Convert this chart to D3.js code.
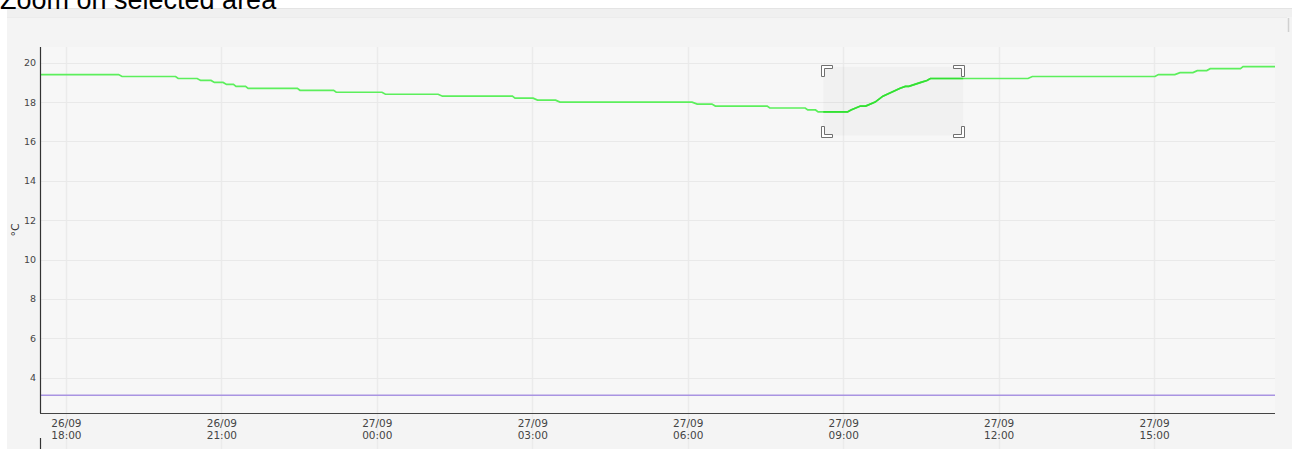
<!DOCTYPE html>
<html>
<head>
<meta charset="utf-8">
<script src="https://cdn.jsdelivr.net/npm/d3@7"></script>
<style>
  html, body { margin: 0; padding: 0; background: #ffffff; overflow: hidden; }
  svg { display: block; }
</style>
</head>
<body>
<svg id="chart" width="1299" height="449"></svg>
<script>
// ---------- data ----------
const titleText = "Zoom on selected area";
const yLabel = "°C";

const greenTimes = [
  "2023-09-26 17:30","2023-09-26 19:01","2023-09-26 19:05","2023-09-26 20:07","2023-09-26 20:10",
  "2023-09-26 20:32","2023-09-26 20:36","2023-09-26 20:48","2023-09-26 20:52","2023-09-26 21:02",
  "2023-09-26 21:06","2023-09-26 21:14","2023-09-26 21:17","2023-09-26 21:28","2023-09-26 21:31",
  "2023-09-26 22:28","2023-09-26 22:31","2023-09-26 23:10","2023-09-26 23:13","2023-09-27 00:06",
  "2023-09-27 00:10","2023-09-27 01:11","2023-09-27 01:16","2023-09-27 02:37","2023-09-27 02:40",
  "2023-09-27 03:01","2023-09-27 03:06","2023-09-27 03:27","2023-09-27 03:32","2023-09-27 06:05",
  "2023-09-27 06:11","2023-09-27 06:28","2023-09-27 06:32","2023-09-27 07:32","2023-09-27 07:35",
  "2023-09-27 08:16","2023-09-27 08:19","2023-09-27 08:28","2023-09-27 08:31","2023-09-27 09:05",
  "2023-09-27 09:09","2023-09-27 09:20","2023-09-27 09:26","2023-09-27 09:37","2023-09-27 09:46",
  "2023-09-27 10:06","2023-09-27 10:12","2023-09-27 10:16","2023-09-27 10:30","2023-09-27 10:37",
  "2023-09-27 10:41","2023-09-27 12:34","2023-09-27 12:39","2023-09-27 15:01","2023-09-27 15:05",
  "2023-09-27 15:24","2023-09-27 15:30","2023-09-27 15:45","2023-09-27 15:50","2023-09-27 16:01",
  "2023-09-27 16:05","2023-09-27 16:40","2023-09-27 16:43","2023-09-27 17:20"
];
const greenValues = [
  19.4,19.4,19.3,19.3,19.2,
  19.2,19.1,19.1,19.0,19.0,
  18.9,18.9,18.8,18.8,18.7,
  18.7,18.6,18.6,18.5,18.5,
  18.4,18.4,18.3,18.3,18.2,
  18.2,18.1,18.1,18.0,18.0,
  17.9,17.9,17.8,17.8,17.7,
  17.7,17.6,17.6,17.5,17.5,
  17.6,17.8,17.8,18.0,18.3,
  18.7,18.8,18.8,19.0,19.1,
  19.2,19.2,19.3,19.3,19.4,
  19.4,19.5,19.5,19.6,19.6,
  19.7,19.7,19.8,19.8
];

const purpleTimes = ["2023-09-26 17:30", "2023-09-27 17:20"];
const purpleValues = [3.1, 3.1];

const xDomain = ["2023-09-26 17:30", "2023-09-27 17:20"];
const yDomain = [2.2, 20.8];
const yTicks = [4, 6, 8, 10, 12, 14, 16, 18, 20];
const xTicks = ["2023-09-26 18:00","2023-09-26 21:00","2023-09-27 00:00","2023-09-27 03:00",
                "2023-09-27 06:00","2023-09-27 09:00","2023-09-27 12:00","2023-09-27 15:00"];

// selected (zoom) area
const selTimes = ["2023-09-27 08:37", "2023-09-27 11:19"];
const selValues = [16.3, 19.8];

// ---------- drawing ----------
const parse = d3.timeParse("%Y-%m-%d %H:%M");
const W = 1299, H = 449;
const plot = { left: 40, right: 1275, top: 47, bottom: 413 };

const svg = d3.select("#chart");

// container panel
svg.append("rect").attr("x", 7).attr("y", 8).attr("width", 1285).attr("height", H - 8)
  .attr("fill", "#f4f4f4");
svg.append("rect").attr("x", 7).attr("y", 8).attr("width", 1285).attr("height", 9)
  .attr("fill", "#f0f0f0");
svg.append("line").attr("x1", 7).attr("x2", 1292).attr("y1", 8.5).attr("y2", 8.5)
  .attr("stroke", "#e4e4e4");
svg.append("line").attr("x1", 7).attr("x2", 1287).attr("y1", 17.5).attr("y2", 17.5)
  .attr("stroke", "#ececec");
svg.append("line").attr("x1", 1288.5).attr("x2", 1288.5).attr("y1", 18).attr("y2", 32)
  .attr("stroke", "#d0d0d0").attr("stroke-width", 1.5);

// page title (partially scrolled out of view at the top, as in the reference)
svg.append("text")
  .attr("x", 0).attr("y", 9)
  .attr("font-family", "Liberation Sans, Arial, sans-serif")
  .attr("font-size", 27)
  .attr("fill", "#000")
  .text(titleText);

// plot background
svg.append("rect")
  .attr("x", plot.left).attr("y", plot.top)
  .attr("width", plot.right - plot.left).attr("height", plot.bottom - plot.top)
  .attr("fill", "#f7f7f7");

const x = d3.scaleTime().domain(xDomain.map(parse)).range([plot.left, plot.right]);
const y = d3.scaleLinear().domain(yDomain).range([plot.bottom, plot.top]);

// grid
const gx = svg.append("g");
xTicks.map(parse).forEach(t => {
  gx.append("line")
    .attr("x1", Math.round(x(t)) + 0.5).attr("x2", Math.round(x(t)) + 0.5)
    .attr("y1", plot.top).attr("y2", H)
    .attr("stroke", "#ebebeb").attr("stroke-width", 1.5);
});
yTicks.forEach(v => {
  gx.append("line")
    .attr("x1", plot.left).attr("x2", plot.right)
    .attr("y1", Math.round(y(v)) + 0.5).attr("y2", Math.round(y(v)) + 0.5)
    .attr("stroke", "#e9e9e9").attr("stroke-width", 1);
});

// selection rectangle
const sx0 = x(parse(selTimes[0])), sx1 = x(parse(selTimes[1]));
const sy0 = y(selValues[1]), sy1 = y(selValues[0]);
svg.append("rect")
  .attr("x", sx0).attr("y", sy0).attr("width", sx1 - sx0).attr("height", sy1 - sy0)
  .attr("fill", "#000").attr("fill-opacity", 0.025);

// series
const green = greenTimes.map((t, i) => ({ t: parse(t), v: greenValues[i] }));
const purple = purpleTimes.map((t, i) => ({ t: parse(t), v: purpleValues[i] }));
const line = d3.line().x(d => x(d.t)).y(d => y(d.v));

svg.append("path").datum(purple).attr("d", line)
  .attr("fill", "none").attr("stroke", "#a994e2").attr("stroke-width", 1.6);

svg.append("path").datum(green).attr("d", line)
  .attr("fill", "none").attr("stroke", "#5cef5c").attr("stroke-width", 1.7);

svg.append("clipPath").attr("id", "selclip").append("rect")
  .attr("x", sx0).attr("y", sy0).attr("width", sx1 - sx0).attr("height", sy1 - sy0);
svg.append("path").datum(green).attr("d", line)
  .attr("clip-path", "url(#selclip)")
  .attr("fill", "none").attr("stroke", "#33e033").attr("stroke-width", 1.7);

// selection corner brackets
function bracket(cx, cy, dx, dy) {
  const L = 11, T = 3;
  const p = d3.path();
  p.moveTo(cx, cy);
  p.lineTo(cx + dx * L, cy);
  p.lineTo(cx + dx * L, cy + dy * T);
  p.lineTo(cx + dx * T, cy + dy * T);
  p.lineTo(cx + dx * T, cy + dy * L);
  p.lineTo(cx, cy + dy * L);
  p.closePath();
  svg.append("path").attr("d", p.toString())
    .attr("fill", "#ffffff").attr("stroke", "#707070").attr("stroke-width", 1);
}
bracket(Math.round(sx0) - 1.5, Math.round(sy0) - 1.5, 1, 1);
bracket(Math.round(sx1) + 1.5, Math.round(sy0) - 1.5, -1, 1);
bracket(Math.round(sx0) - 1.5, Math.round(sy1) + 1.5, 1, -1);
bracket(Math.round(sx1) + 1.5, Math.round(sy1) + 1.5, -1, -1);

// axes
const yAxis = d3.axisLeft(y).tickValues(yTicks).tickSize(0).tickPadding(4).tickFormat(d3.format("d"));
const gy = svg.append("g").attr("transform", `translate(${plot.left},0)`).call(yAxis);
gy.select(".domain").remove();
gy.selectAll("text")
  .attr("font-family", "DejaVu Sans, Verdana, sans-serif")
  .attr("font-size", 9.5).attr("fill", "#444");

const fmtD = d3.timeFormat("%d/%m"), fmtT = d3.timeFormat("%H:%M");
const xAxis = d3.axisBottom(x).tickValues(xTicks.map(parse)).tickSize(0).tickFormat("");
const gxa = svg.append("g").attr("transform", `translate(0,${plot.bottom})`).call(xAxis);
gxa.select(".domain").remove();
gxa.selectAll(".tick").each(function(d) {
  const g = d3.select(this);
  const tx = g.append("text").attr("text-anchor", "middle")
    .attr("font-family", "DejaVu Sans, Verdana, sans-serif")
    .attr("font-size", 10.5).attr("fill", "#444");
  tx.append("tspan").attr("x", 0).attr("y", 14).text(fmtD(d));
  tx.append("tspan").attr("x", 0).attr("y", 26).text(fmtT(d));
});

// axis lines
svg.append("line").attr("x1", plot.left + 0.5).attr("x2", plot.left + 0.5)
  .attr("y1", plot.top).attr("y2", plot.bottom).attr("stroke", "#333").attr("stroke-width", 1.2);
svg.append("line").attr("x1", plot.left).attr("x2", plot.right)
  .attr("y1", plot.bottom + 0.5).attr("y2", plot.bottom + 0.5).attr("stroke", "#444").attr("stroke-width", 1.2);
// start of the next chart's axis below
svg.append("line").attr("x1", plot.left + 0.5).attr("x2", plot.left + 0.5)
  .attr("y1", 438).attr("y2", H).attr("stroke", "#333").attr("stroke-width", 1.2);

// y label
svg.append("text")
  .attr("transform", `translate(19,${(plot.top + plot.bottom) / 2}) rotate(-90)`)
  .attr("text-anchor", "middle")
  .attr("font-family", "DejaVu Sans, Verdana, sans-serif")
  .attr("font-size", 11).attr("fill", "#333")
  .text(yLabel);
</script>
</body>
</html>
